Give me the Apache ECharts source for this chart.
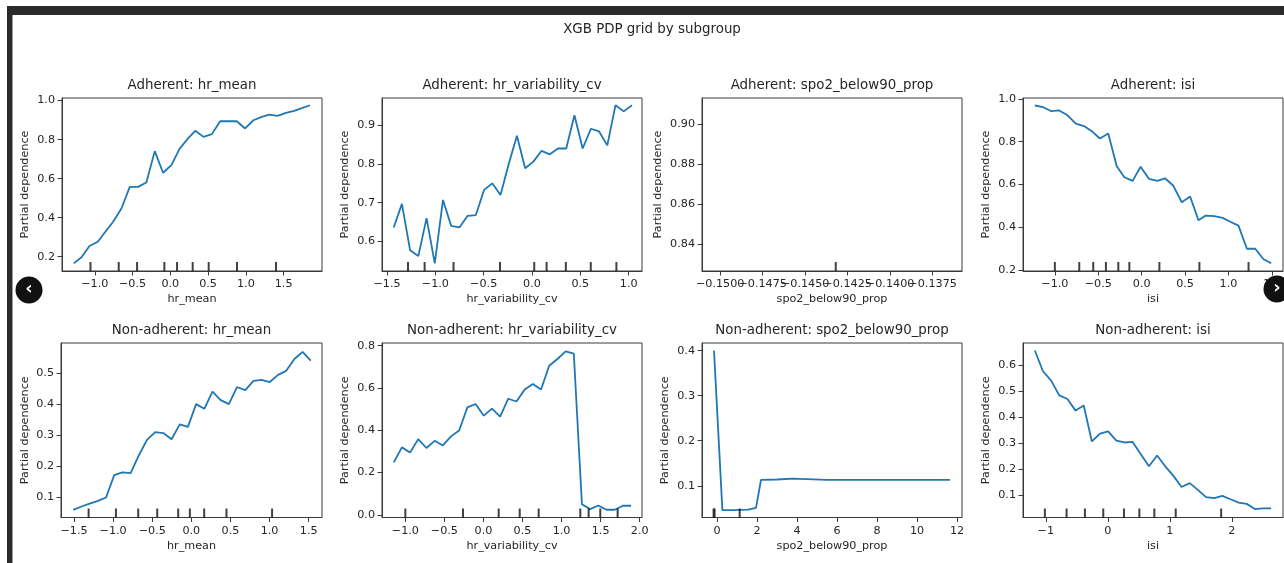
<!DOCTYPE html>
<html>
<head>
<meta charset="utf-8">
<script src="https://cdn.jsdelivr.net/npm/echarts@6/dist/echarts.min.js"></script>
<style>
html,body{margin:0;padding:0;background:#fff;}
#chart{width:1284px;height:563px;}
</style>
</head>
<body>
<div id="chart"></div>
<script>
// ---------- DATA ----------
const suptitle = "XGB PDP grid by subgroup";

const adh_hr_mean_x = [-1.278,-1.176,-1.07,-0.96,-0.86,-0.757,-0.647,-0.537,-0.427,-0.317,-0.206,-0.096,0.014,0.124,0.235,0.33,0.44,0.55,0.66,0.77,0.88,0.99,1.10,1.21,1.31,1.42,1.53,1.64,1.75,1.85];
const adh_hr_mean_y = [0.166,0.197,0.255,0.277,0.328,0.379,0.447,0.558,0.558,0.580,0.741,0.630,0.669,0.754,0.806,0.845,0.814,0.828,0.894,0.894,0.894,0.857,0.899,0.916,0.928,0.921,0.937,0.947,0.962,0.976];
const adh_hr_mean_rug = [-1.057,-0.683,-0.44,-0.079,0.089,0.296,0.508,0.883,1.399];

const adh_hrv_x = [-1.431,-1.346,-1.261,-1.176,-1.091,-1.006,-0.921,-0.836,-0.751,-0.666,-0.581,-0.496,-0.411,-0.326,-0.241,-0.156,-0.071,0.014,0.099,0.184,0.269,0.354,0.439,0.524,0.609,0.694,0.779,0.864,0.949,1.034];
const adh_hrv_y = [0.636,0.697,0.577,0.562,0.660,0.543,0.707,0.640,0.636,0.666,0.668,0.733,0.750,0.720,0.800,0.873,0.789,0.806,0.834,0.825,0.840,0.840,0.926,0.840,0.891,0.884,0.848,0.952,0.936,0.952];
const adh_hrv_rug = [-1.283,-1.111,-0.812,-0.331,0.023,0.151,0.350,0.608,0.873];

const adh_spo2_x = [-0.1432];
const adh_spo2_y = [0.87];
const adh_spo2_rug = [-0.1432];

const adh_isi_x = [-1.231,-1.135,-1.046,-0.95,-0.854,-0.758,-0.665,-0.565,-0.481,-0.385,-0.288,-0.2,-0.104,-0.012,0.085,0.181,0.269,0.365,0.462,0.558,0.654,0.738,0.835,0.931,1.027,1.115,1.212,1.308,1.404,1.492];
const adh_isi_y = [0.969,0.961,0.943,0.946,0.923,0.884,0.873,0.846,0.815,0.838,0.686,0.634,0.617,0.683,0.626,0.617,0.629,0.594,0.517,0.544,0.433,0.455,0.452,0.444,0.425,0.408,0.300,0.300,0.251,0.232];
const adh_isi_rug = [-1.0,-0.719,-0.558,-0.412,-0.269,-0.142,0.204,0.665,1.231];

const non_hr_mean_x = [-1.509,-1.404,-1.300,-1.195,-1.090,-0.986,-0.881,-0.776,-0.672,-0.567,-0.462,-0.358,-0.253,-0.148,-0.044,0.061,0.166,0.270,0.375,0.480,0.584,0.689,0.794,0.898,1.003,1.108,1.212,1.317,1.422,1.526];
const non_hr_mean_y = [0.060,0.071,0.080,0.089,0.100,0.172,0.181,0.178,0.235,0.285,0.310,0.307,0.287,0.335,0.327,0.400,0.385,0.440,0.413,0.400,0.455,0.445,0.475,0.478,0.471,0.494,0.507,0.545,0.568,0.540];
const non_hr_mean_rug = [-1.313,-0.964,-0.679,-0.436,-0.168,-0.019,0.164,0.449,1.032];

const non_hrv_x = [-1.149,-1.044,-0.939,-0.835,-0.730,-0.625,-0.520,-0.415,-0.311,-0.206,-0.101,0.004,0.109,0.213,0.318,0.423,0.528,0.633,0.737,0.842,0.947,1.052,1.157,1.261,1.366,1.471,1.576,1.681,1.785,1.890];
const non_hrv_y = [0.248,0.319,0.295,0.358,0.316,0.350,0.328,0.371,0.399,0.508,0.524,0.469,0.502,0.464,0.549,0.536,0.593,0.619,0.593,0.705,0.737,0.773,0.762,0.050,0.027,0.044,0.024,0.024,0.043,0.043];
const non_hrv_rug = [-1.0,-0.262,0.195,0.464,0.707,1.240,1.347,1.496,1.718];

const non_spo2_x = [-0.15,0.27,0.8,1.55,1.95,2.2,3.0,3.8,5.5,8.0,11.65];
const non_spo2_y = [0.400,0.046,0.046,0.047,0.051,0.113,0.114,0.116,0.113,0.113,0.113];
const non_spo2_rug = [-0.17,-0.12,1.133];

const non_isi_x = [-1.178,-1.047,-0.915,-0.784,-0.652,-0.521,-0.389,-0.258,-0.126,0.005,0.137,0.268,0.400,0.532,0.663,0.795,0.926,1.058,1.189,1.321,1.452,1.584,1.715,1.847,1.978,2.110,2.241,2.373,2.504,2.635];
const non_isi_y = [0.657,0.577,0.541,0.484,0.470,0.425,0.445,0.306,0.336,0.345,0.309,0.302,0.304,0.257,0.210,0.252,0.210,0.173,0.130,0.145,0.119,0.091,0.087,0.096,0.083,0.070,0.065,0.045,0.048,0.048];
const non_isi_rug = [-1.016,-0.666,-0.370,-0.074,0.260,0.508,0.750,1.095,1.828];

// tick labels
const ticks_x_adh_hr_mean = [-1.0,-0.5,0.0,0.5,1.0,1.5];
const ticks_y_adh_hr_mean = [0.2,0.4,0.6,0.8,1.0];
const ticks_x_adh_hrv = [-1.5,-1.0,-0.5,0.0,0.5,1.0];
const ticks_y_adh_hrv = [0.6,0.7,0.8,0.9];
const ticks_x_adh_spo2 = [-0.15,-0.1475,-0.145,-0.1425,-0.14,-0.1375];
const ticks_y_adh_spo2 = [0.84,0.86,0.88,0.90];
const ticks_x_adh_isi = [-1.0,-0.5,0.0,0.5,1.0,1.5];
const ticks_y_adh_isi = [0.2,0.4,0.6,0.8,1.0];
const ticks_x_non_hr_mean = [-1.5,-1.0,-0.5,0.0,0.5,1.0,1.5];
const ticks_y_non_hr_mean = [0.1,0.2,0.3,0.4,0.5];
const ticks_x_non_hrv = [-1.0,-0.5,0.0,0.5,1.0,1.5,2.0];
const ticks_y_non_hrv = [0.0,0.2,0.4,0.6,0.8];
const ticks_x_non_spo2 = [0,2,4,6,8,10,12];
const ticks_y_non_spo2 = [0.1,0.2,0.3,0.4];
const ticks_x_non_isi = [-1,0,1,2];
const ticks_y_non_isi = [0.1,0.2,0.3,0.4,0.5,0.6];

// ---------- LAYOUT ----------
const panels = [
  {title:"Adherent: hr_mean", xname:"hr_mean", x:adh_hr_mean_x, y:adh_hr_mean_y, rug:adh_hr_mean_rug, xt:ticks_x_adh_hr_mean, yt:ticks_y_adh_hr_mean, xd:1, yd:1, xr:[-1.434,2.008], yr:[0.127,1.013], left:62, top:98, w:260, h:173, gap:31},
  {title:"Adherent: hr_variability_cv", xname:"hr_variability_cv", x:adh_hrv_x, y:adh_hrv_y, rug:adh_hrv_rug, xt:ticks_x_adh_hrv, yt:ticks_y_adh_hrv, xd:1, yd:1, xr:[-1.552,1.138], yr:[0.5235,0.9705], left:382, top:98, w:260, h:173, gap:31},
  {title:"Adherent: spo2_below90_prop", xname:"spo2_below90_prop", x:adh_spo2_x, y:adh_spo2_y, rug:adh_spo2_rug, xt:ticks_x_adh_spo2, yt:ticks_y_adh_spo2, xd:4, yd:2, xr:[-0.15107,-0.13577], yr:[0.8267,0.9133], left:702, top:98, w:260, h:173, gap:38.5, split:true},
  {title:"Adherent: isi", xname:"isi", x:adh_isi_x, y:adh_isi_y, rug:adh_isi_rug, xt:ticks_x_adh_isi, yt:ticks_y_adh_isi, xd:1, yd:1, xr:[-1.367,1.628], yr:[0.196,1.004], left:1023, top:98, w:260, h:173, gap:31},
  {title:"Non-adherent: hr_mean", xname:"hr_mean", x:non_hr_mean_x, y:non_hr_mean_y, rug:non_hr_mean_rug, xt:ticks_x_non_hr_mean, yt:ticks_y_non_hr_mean, xd:1, yd:1, xr:[-1.666,1.670], yr:[0.0357,0.5965], left:61, top:343, w:261, h:174.5, gap:30.5},
  {title:"Non-adherent: hr_variability_cv", xname:"hr_variability_cv", x:non_hrv_x, y:non_hrv_y, rug:non_hrv_rug, xt:ticks_x_non_hrv, yt:ticks_y_non_hrv, xd:1, yd:1, xr:[-1.299,2.03], yr:[-0.0126,0.8126], left:382, top:343, w:260, h:174.5, gap:31},
  {title:"Non-adherent: spo2_below90_prop", xname:"spo2_below90_prop", x:non_spo2_x, y:non_spo2_y, rug:non_spo2_rug, xt:ticks_x_non_spo2, yt:ticks_y_non_spo2, xd:0, yd:1, xr:[-0.75,12.25], yr:[0.0296,0.417], left:702, top:343, w:260, h:174.5, gap:31.5},
  {title:"Non-adherent: isi", xname:"isi", x:non_isi_x, y:non_isi_y, rug:non_isi_rug, xt:ticks_x_non_isi, yt:ticks_y_non_isi, xd:0, yd:1, xr:[-1.369,2.826], yr:[0.0124,0.686], left:1023, top:343, w:260, h:174.5, gap:31}
];

const FONT = "DejaVu Sans";
const TXT = "#262626";
const SPINE = "#3a3a3a";
const LINE = "#1f77b4";

function fmt(d){ return v => Number(v).toFixed(d).replace('-', '\u2212'); }

const grid = [], xAxis = [], yAxis = [], series = [], graphic = [];
const extraX = [];

function makeX(p, i, ticks, withName) {
  return {
    type:'value', gridIndex:i, position:'bottom', min:p.xr[0], max:p.xr[1],
    name: withName ? p.xname : '', nameLocation:'middle', nameGap:23,
    nameTextStyle:{fontFamily:FONT, fontSize:11.2, color:TXT},
    axisLine:{show:withName, onZero:false, lineStyle:{color:SPINE, width:1}},
    axisTick:{show:true, length:4.5, customValues:ticks, lineStyle:{color:SPINE, width:1}},
    axisLabel:{customValues:ticks, formatter:fmt(p.xd), fontFamily:FONT, fontSize:11.2, color:TXT, margin:8, hideOverlap:false, showMinLabel:true, showMaxLabel:true},
    splitLine:{show:false}
  };
}

panels.forEach((p, i) => {
  grid.push({left:p.left, top:p.top, width:p.w, height:p.h, show:true, borderColor:SPINE, borderWidth:1, backgroundColor:'transparent', containLabel:false});
  if (p.split) {
    // alternate labels on two overlaid axes so every matplotlib label is drawn
    xAxis.push(makeX(p, i, p.xt.filter((v, k) => k % 2 === 0), true));
    extraX.push(makeX(p, i, p.xt.filter((v, k) => k % 2 === 1), false));
  } else {
    xAxis.push(makeX(p, i, p.xt, true));
  }
  yAxis.push({
    type:'value', gridIndex:i, min:p.yr[0], max:p.yr[1],
    name:'Partial dependence', nameLocation:'middle', nameGap:p.gap,
    nameTextStyle:{fontFamily:FONT, fontSize:11.2, color:TXT},
    axisLine:{show:true, onZero:false, lineStyle:{color:SPINE, width:1}},
    axisTick:{show:true, length:4.5, customValues:p.yt, lineStyle:{color:SPINE, width:1}},
    axisLabel:{customValues:p.yt, formatter:fmt(p.yd), fontFamily:FONT, fontSize:11.2, color:TXT, margin:7, showMinLabel:true, showMaxLabel:true},
    splitLine:{show:false}
  });
  series.push({
    type:'line', xAxisIndex:i, yAxisIndex:i,
    data:p.x.map((v, k) => [v, p.y[k]]),
    showSymbol:false, symbol:'none',
    lineStyle:{color:LINE, width:1.8}, itemStyle:{color:LINE},
    silent:true, animation:false
  });
  series.push({
    type:'scatter', xAxisIndex:i, yAxisIndex:i,
    data:p.rug.map(v => [v, p.yr[0]]),
    symbol:'rect', symbolSize:[2, 9], symbolOffset:[0, -4.5],
    itemStyle:{color:'#111'}, clip:false, silent:true, animation:false, z:3
  });
  graphic.push({
    type:'text', x:p.left + p.w/2, y:p.top - 12.5, silent:true,
    style:{text:p.title, fontFamily:FONT, fontSize:13.4, fill:TXT, align:'center', verticalAlign:'middle'}
  });
});
extraX.forEach(a => xAxis.push(a));

// suptitle
graphic.push({type:'text', x:652, y:30, silent:true,
  style:{text:suptitle, fontFamily:FONT, fontSize:13.4, fill:TXT, align:'center', verticalAlign:'middle'}});
// notebook frame (top bar, left strip)
graphic.push({type:'rect', shape:{x:7, y:6, width:1277, height:9}, style:{fill:'#2b2b2b'}, silent:true, z:10});
graphic.push({type:'rect', shape:{x:7, y:6, width:5, height:557}, style:{fill:'#2b2b2b'}, silent:true, z:10});
graphic.push({type:'rect', shape:{x:12, y:15, width:1, height:548}, style:{fill:'#9a9a9a'}, silent:true, z:10});
// carousel buttons
graphic.push({type:'circle', shape:{cx:29, cy:290, r:13.5}, style:{fill:'#111'}, silent:true, z:10});
graphic.push({type:'text', x:29, y:289, silent:true, z:11, style:{text:'\u2039', fontFamily:FONT, fontSize:18, fontWeight:'bold', fill:'#fff', align:'center', verticalAlign:'middle'}});
graphic.push({type:'circle', shape:{cx:1277, cy:289, r:13.5}, style:{fill:'#111'}, silent:true, z:10});
graphic.push({type:'text', x:1277, y:288, silent:true, z:11, style:{text:'\u203a', fontFamily:FONT, fontSize:18, fontWeight:'bold', fill:'#fff', align:'center', verticalAlign:'middle'}});

const chart = echarts.init(document.getElementById('chart'), null, {renderer:'canvas'});
chart.setOption({
  backgroundColor:'#fff',
  animation:false,
  grid, xAxis, yAxis, series, graphic
});
</script>
</body>
</html>
